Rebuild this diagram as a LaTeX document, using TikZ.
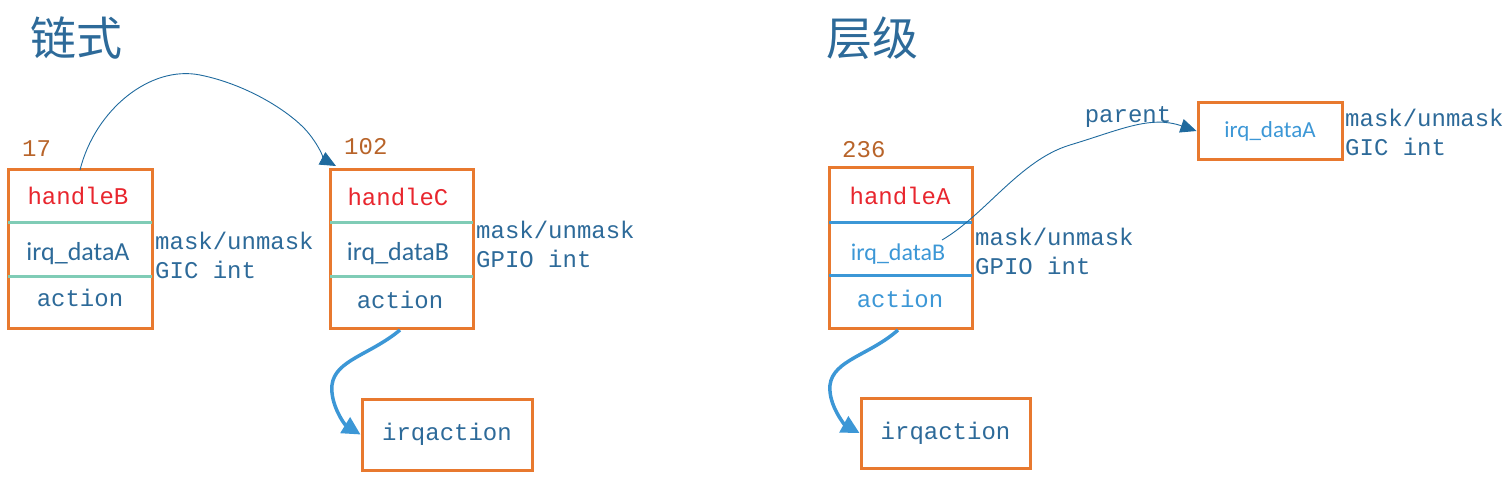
\documentclass[tikz,border=0pt]{standalone}
\usepackage{fontspec}
\setmainfont{Liberation Mono}
\newfontfamily\cjkf{Noto Sans CJK SC}
\newfontfamily\sansf{Carlito}
\usetikzlibrary{arrows.meta}
\definecolor{boxor}{HTML}{E8792F}
\definecolor{numor}{HTML}{B8642A}
\definecolor{hred}{HTML}{E8262E}
\definecolor{tblue}{HTML}{2D6A99}
\definecolor{lblue}{HTML}{3C97D6}
\definecolor{teal}{HTML}{80CCB6}
\definecolor{darr}{HTML}{1F6A9E}
\begin{document}
\begin{tikzpicture}[x=1pt,y=-1pt,
  box/.style={draw=boxor,line width=3pt,minimum width=#1,inner sep=0pt},
  mono/.style={font=\fontsize{24}{26}\selectfont,text=tblue},
  lab/.style={font=\fontsize{24}{29}\selectfont,text=tblue,align=left,anchor=west,inner sep=0pt},
  num/.style={font=\fontsize{24}{26}\selectfont,text=numor,anchor=west,inner sep=0pt},
  thick arr/.style={draw=lblue,line width=3.5pt,-{Triangle[length=18pt,width=18pt]}},
  thin arr/.style={draw=darr,line width=0.9pt,-{Triangle[length=16pt,width=14pt]}}]
\useasboundingbox (0,0) rectangle (1512,478);
\node[font=\cjkf\fontsize{46}{50}\selectfont,text=tblue,anchor=west,inner sep=0pt] (t1) at (30,38) {链式};
\node[font=\cjkf\fontsize{46}{50}\selectfont,text=tblue,anchor=west,inner sep=0pt] (t2) at (826,38) {层级};
% left box 1
\node[box=144pt,minimum height=158pt] (b1) at (80,249) {};
\draw[teal,line width=3pt] (8,223) -- (152,223) (8,277) -- (152,277);
\node[mono,text=hred] (b1a) at (78,196) {handleB};
\node[font=\sansf\fontsize{26}{28}\selectfont,text=tblue] (b1b) at (78,254) {irq\_dataA};
\node[mono] (b1c) at (80,298) {action};
\node[num] (n1) at (22,149) {17};
\node[lab] (l1) at (155,255) {mask/unmask\\GIC int};
% left box 2
\node[box=143pt,minimum height=158pt] (b2) at (401.5,249) {};
\draw[teal,line width=3pt] (330,223) -- (473,223) (330,277) -- (473,277);
\node[mono,text=hred] (b2a) at (398,197) {handleC};
\node[font=\sansf\fontsize{26}{28}\selectfont,text=tblue] (b2b) at (398,254) {irq\_dataB};
\node[mono] (b2c) at (400,300) {action};
\node[num] (n2) at (344,147) {102};
\node[lab] (l2) at (476,244) {mask/unmask\\GPIO int};
\node[box=170pt,minimum height=71pt,mono] (ia1) at (447,434.5) {irqaction};
\coordinate (s1) at (80,170);
\coordinate (e1) at (336,166);
\draw[thin arr] (s1) .. controls (95,110) and (150,65) .. (200,75) .. controls (250,85) and (295,115) .. (310,135) .. controls (320,148) and (325,160) .. (e1);
\coordinate (s2) at (400,330);
\draw[thick arr] (s2) .. controls (370,355) and (335,360) .. (332,385) .. controls (330,405) and (345,425) .. (ia1.west);
% right
\node[box=143pt,minimum height=160pt] (b3) at (900.5,248) {};
\draw[lblue,line width=3pt] (829,223) -- (972,223) (829,276) -- (972,276);
\node[mono,text=hred] (b3a) at (900,196) {handleA};
\node[font=\sansf\fontsize{24}{26}\selectfont,text=lblue] (b3b) at (898,254) {irq\_dataB};
\node[mono,text=lblue] (b3c) at (900,299) {action};
\node[num] (n3) at (842,150) {236};
\node[lab] (l3) at (975,251) {mask/unmask\\GPIO int};
\node[box=144pt,minimum height=57pt,font=\sansf\fontsize{23}{25}\selectfont,text=lblue] (ida) at (1270,131) {irq\_dataA};
\node[lab] (l4) at (1345,132) {mask/unmask\\GIC int};
\node[mono,anchor=center] (par) at (1128,117) {parent};
\coordinate (s3) at (942,240);
\draw[thin arr] (s3) .. controls (985,215) and (1020,160) .. (1070,145) .. controls (1120,130) and (1150,115) .. (ida.west);
\node[box=169pt,minimum height=70pt,mono] (ia2) at (945.5,433) {irqaction};
\coordinate (s4) at (898,330);
\draw[thick arr] (s4) .. controls (870,355) and (833,360) .. (830,385) .. controls (828,405) and (845,425) .. (ia2.west);
\end{tikzpicture}
\end{document}
